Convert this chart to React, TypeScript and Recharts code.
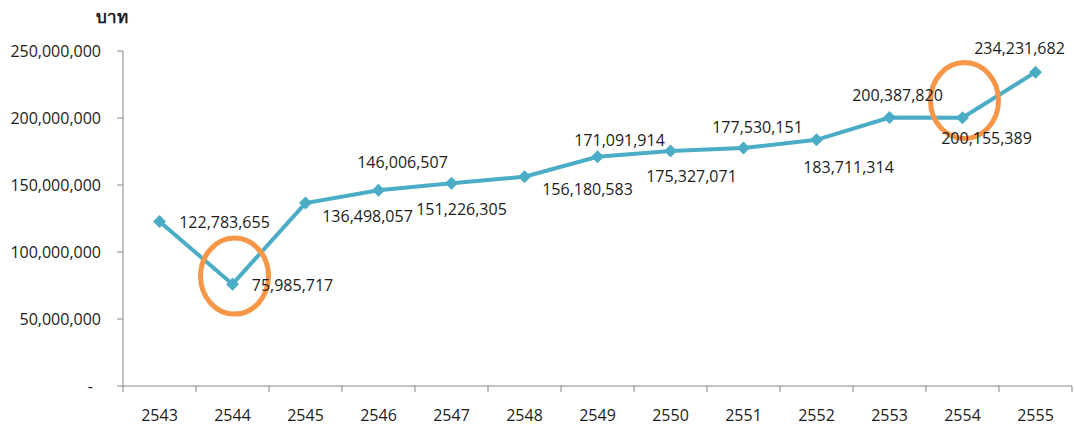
import React from "react";
import { ComposedChart, Line, XAxis, YAxis, ReferenceDot } from "recharts";

const years = ["2543", "2544", "2545", "2546", "2547", "2548", "2549", "2550", "2551", "2552", "2553", "2554", "2555"];
const budget = [
  122783655, 75985717, 136498057, 146006507, 151226305, 156180583, 171091914,
  175327071, 177530151, 183711314, 200387820, 200155389, 234231682,
];
const yTicks = [0, 50000000, 100000000, 150000000, 200000000, 250000000];

// circled points (centre of the orange ring, in data units)
const ringYears = ["2544", "2554"];
const ringValues = [82000000, 213000000];

// data labels were dragged around by hand in the original sheet
const labelDx = [65, 60, 62, 24, 10, 63, 22, 21, 14, 32, 8, 24, -16];
const labelDy = [1, 1, 13, -28, 26, 13, -16, 25, -21, 27, -22, 20, -24];

const W = 1074;
const H = 429;
const AXIS_W = 123;
const BAND = (W - AXIS_W - 2) / years.length;
const FONT = "'Open Sans', 'Liberation Sans', sans-serif";
const TEXT = "#1c1c1c";
const AXIS = "#868686";

const data = years.map((year, i) => ({ year, value: budget[i] }));

const YTick = (props: any) => {
  const { x, y, payload } = props;
  const v = payload.value as number;
  return (
    <text x={v === 0 ? x - 8 : x} y={y} dy="0.36em" textAnchor="end" fill={TEXT} fontSize={16} fontFamily={FONT}>
      {v === 0 ? "-" : v.toLocaleString("en-US")}
    </text>
  );
};

const XTick = (props: any) => {
  const { x, y, payload, index } = props;
  const half = payload.offset || BAND / 2;
  return (
    <g>
      <line x1={x - half} x2={x - half} y1={y} y2={y + 6} stroke={AXIS} strokeWidth={1} />
      {index === years.length - 1 && (
        <line x1={x + half} x2={x + half} y1={y} y2={y + 6} stroke={AXIS} strokeWidth={1} />
      )}
      <text x={x} y={y + 29} dy="0.36em" textAnchor="middle" fill={TEXT} fontSize={16} fontFamily={FONT}>
        {payload.value}
      </text>
    </g>
  );
};

const Diamond = (props: any) => {
  const { cx, cy, index } = props;
  const s = 6.5;
  return (
    <polygon
      key={`d-${index}`}
      points={`${cx},${cy - s} ${cx + s},${cy} ${cx},${cy + s} ${cx - s},${cy}`}
      fill="#4BACC6"
    />
  );
};

const ValueLabel = (props: any) => {
  const { x, y, value, index } = props;
  return (
    <text
      x={x + labelDx[index]}
      y={y + labelDy[index]}
      dy="0.36em"
      textAnchor="middle"
      fill={TEXT}
      fontSize={16}
      fontFamily={FONT}
    >
      {Number(value).toLocaleString("en-US")}
    </text>
  );
};

const Ring = (props: any) => (
  <ellipse cx={props.cx + 2} cy={props.cy} rx={34} ry={38} fill="none" stroke="#F79646" strokeWidth={5} />
);

export default function App() {
  return (
    <div style={{ position: "absolute", left: 0, top: 0, width: W, height: H, background: "#fff" }}>
      <div
        style={{
          position: "absolute",
          left: 96,
          top: 3,
          fontFamily: FONT,
          fontWeight: 700,
          fontSize: 17,
          color: TEXT,
        }}
      >
        บาท
      </div>
      <ComposedChart width={W} height={H} data={data} margin={{ top: 51, right: 2, bottom: 0, left: 0 }}>
        <XAxis
          dataKey="year"
          scale="band"
          height={43}
          axisLine={{ stroke: AXIS }}
          tickLine={false}
          tickSize={0}
          tickMargin={0}
          interval={0}
          tick={<XTick />}
        />
        <YAxis
          width={AXIS_W}
          domain={[0, 250000000]}
          ticks={yTicks}
          axisLine={{ stroke: AXIS }}
          tickLine={{ stroke: AXIS }}
          tickSize={6}
          tickMargin={16}
          tick={<YTick />}
        />
        <Line
          dataKey="value"
          stroke="#4BACC6"
          strokeWidth={4}
          dot={Diamond}
          activeDot={false}
          label={ValueLabel}
          isAnimationActive={false}
        />
        {ringYears.map((yr, i) => (
          <ReferenceDot key={yr} x={yr} y={ringValues[i]} r={34} shape={Ring} ifOverflow="visible" />
        ))}
      </ComposedChart>
    </div>
  );
}
